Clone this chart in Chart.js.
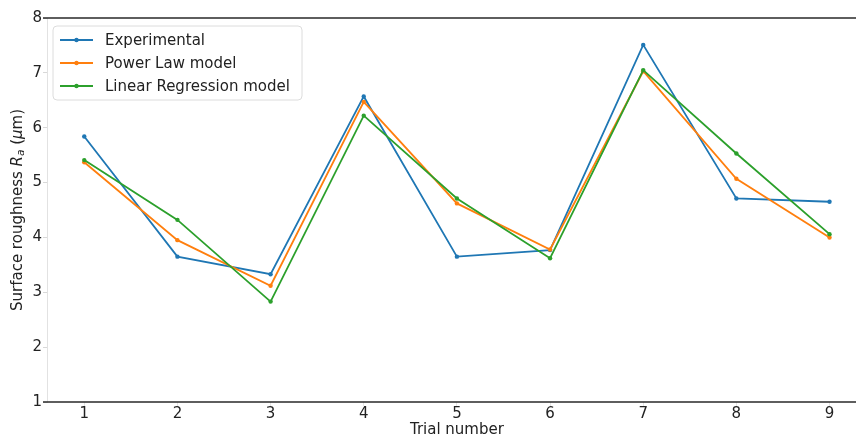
<!DOCTYPE html>
<html>
<head>
<meta charset="utf-8">
<script src="https://cdn.jsdelivr.net/npm/chart.js@4/dist/chart.umd.min.js"></script>
<style>
  html, body { margin: 0; padding: 0; background: #fff; overflow: hidden; width: 856px; height: 437px; }
  #wrap { position: absolute; left: 0; top: 0; width: 869px; height: 437px; }
</style>
</head>
<body>
<div id="wrap"><canvas id="c"></canvas></div>
<script>
const trials = [1, 2, 3, 4, 5, 6, 7, 8, 9];
const experimental = [5.84, 3.65, 3.33, 6.57, 3.65, 3.77, 7.51, 4.71, 4.65];
const powerLaw = [5.37, 3.95, 3.12, 6.47, 4.62, 3.78, 7.03, 5.07, 4.00];
const linearRegression = [5.41, 4.32, 2.83, 6.22, 4.71, 3.62, 7.05, 5.53, 4.06];
const yTicks = [1, 2, 3, 4, 5, 6, 7, 8];
const seriesNames = ['Experimental', 'Power Law model', 'Linear Regression model'];
const xTitle = 'Trial number';

const FONT = "'DejaVu Sans', sans-serif";
const colors = ['#1f77b4', '#ff7f0e', '#2ca02c'];

function pts(vals) { return trials.map((t, i) => ({ x: t, y: vals[i] })); }

const datasets = [experimental, powerLaw, linearRegression].map((vals, i) => ({
  label: seriesNames[i],
  data: pts(vals),
  borderColor: colors[i],
  backgroundColor: colors[i],
  borderWidth: 1.8,
  pointRadius: 2.2,
  pointBorderWidth: 0,
  pointHoverRadius: 2.2,
  tension: 0,
  order: 2 - i
}));

const decor = {
  id: 'decor',
  afterDraw(chart) {
    const ctx = chart.ctx;
    const a = chart.chartArea;
    ctx.save();
    // top & bottom spines
    ctx.strokeStyle = '#2a2a2a';
    ctx.lineWidth = 1.4;
    ctx.beginPath();
    ctx.moveTo(43, a.top); ctx.lineTo(a.right, a.top);
    ctx.moveTo(43, a.bottom); ctx.lineTo(a.right, a.bottom);
    ctx.stroke();

    // legend
    const lx = 53, ly = 26, lw = 249, lh = 74, r = 4;
    ctx.fillStyle = 'rgba(255,255,255,0.85)';
    ctx.strokeStyle = '#dcdcdc';
    ctx.lineWidth = 1;
    ctx.beginPath();
    ctx.moveTo(lx + r, ly);
    ctx.lineTo(lx + lw - r, ly); ctx.arcTo(lx + lw, ly, lx + lw, ly + r, r);
    ctx.lineTo(lx + lw, ly + lh - r); ctx.arcTo(lx + lw, ly + lh, lx + lw - r, ly + lh, r);
    ctx.lineTo(lx + r, ly + lh); ctx.arcTo(lx, ly + lh, lx, ly + lh - r, r);
    ctx.lineTo(lx, ly + r); ctx.arcTo(lx, ly, lx + r, ly, r);
    ctx.closePath();
    ctx.fill(); ctx.stroke();
    chart.data.datasets.forEach((ds, i) => {
      const y = 40 + i * 23;
      ctx.strokeStyle = ds.borderColor;
      ctx.lineWidth = 1.8;
      ctx.beginPath(); ctx.moveTo(60, y); ctx.lineTo(93, y); ctx.stroke();
      ctx.fillStyle = ds.borderColor;
      ctx.beginPath(); ctx.arc(76.5, y, 2.2, 0, Math.PI * 2); ctx.fill();
      ctx.fillStyle = '#222';
      ctx.font = '15px ' + FONT;
      ctx.textBaseline = 'middle';
      ctx.textAlign = 'left';
      ctx.fillText(ds.label, 105, y + 1);
    });

    // y-axis title with italic R subscript a
    const parts = [
      ['Surface roughness ', '15px ' + FONT, 0],
      ['R', 'italic 15px ' + FONT, 0],
      ['a', 'italic 10.5px ' + FONT, 3],
      [' (', '15px ' + FONT, 0],
      ['\u03bc', 'italic 15px ' + FONT, 0],
      ['m)', '15px ' + FONT, 0]
    ];
    let total = 0;
    parts.forEach(p => { ctx.font = p[1]; total += ctx.measureText(p[0]).width; });
    ctx.translate(18, (a.top + a.bottom) / 2);
    ctx.rotate(-Math.PI / 2);
    ctx.fillStyle = '#222';
    ctx.textBaseline = 'middle';
    ctx.textAlign = 'left';
    let x = -total / 2;
    parts.forEach(p => {
      ctx.font = p[1];
      ctx.fillText(p[0], x, p[2]);
      x += ctx.measureText(p[0]).width;
    });
    ctx.restore();
  }
};

new Chart(document.getElementById('c'), {
  type: 'line',
  data: { datasets },
  options: {
    responsive: true,
    maintainAspectRatio: false,
    animation: false,
    layout: { padding: { top: 18, right: 0, left: 0, bottom: 0 } },
    plugins: { legend: { display: false }, tooltip: { enabled: false } },
    scales: {
      x: {
        type: 'linear',
        min: 0.6,
        max: 9.4,
        afterBuildTicks: s => { s.ticks = trials.map(v => ({ value: v })); },
        afterFit: s => { s.height = 35; },
        grid: { display: true, drawOnChartArea: false, tickLength: 4, color: '#e6e6e6' },
        border: { display: false },
        ticks: { color: '#222', font: { family: FONT, size: 15 }, padding: -1, maxRotation: 0 },
        title: { display: true, text: xTitle, color: '#222', font: { family: FONT, size: 15 }, padding: { top: 0, bottom: -2 } }
      },
      y: {
        min: 1,
        max: 8,
        afterBuildTicks: s => { s.ticks = yTicks.map(v => ({ value: v })); },
        afterFit: s => { s.width = 47; },
        grid: { display: true, drawOnChartArea: false, tickLength: 4, color: '#d8d8d8' },
        border: { display: true, color: '#e2e2e2', width: 1 },
        ticks: { color: '#222', font: { family: FONT, size: 15 }, padding: 1 }
      }
    }
  },
  plugins: [decor]
});
</script>
</body>
</html>
